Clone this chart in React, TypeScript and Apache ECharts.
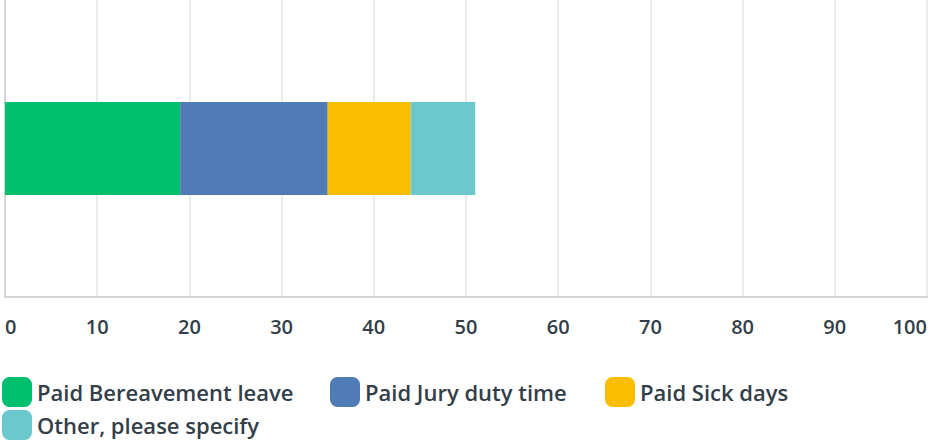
import React, { useEffect, useRef } from "react";
import * as echarts from "echarts";

const categories = ["Q"];
const seriesNames = ["Paid Bereavement leave", "Paid Jury duty time", "Paid Sick days", "Other, please specify"];
const seriesValues = [[19], [16], [9], [7]];
const seriesColors = ["#00bf6f", "#507cb6", "#f9be00", "#6bc8cd"];
const xTicks = [0, 100, 10];

const textColor = "#333e48";
const fontFamily = "'Open Sans', 'Noto Sans', sans-serif";

export default function App() {
  const ref = useRef<HTMLDivElement>(null);
  useEffect(() => {
    document.body.style.margin = "0";
    const chart = echarts.init(ref.current!, null, { renderer: "svg" });
    const legendPos = [
      { left: 2, top: 377 },
      { left: 330, top: 377 },
      { left: 605, top: 377 },
      { left: 2, top: 410 },
    ];
    chart.setOption({
      animation: false,
      grid: { left: 5, right: 2, top: 0, height: 297, containLabel: false },
      xAxis: {
        type: "value",
        min: xTicks[0],
        max: xTicks[1],
        interval: xTicks[2],
        axisLine: { show: true, lineStyle: { color: "#d4d4d4", width: 2 } },
        axisTick: { show: false },
        splitLine: { show: true, lineStyle: { color: "#ececec", width: 2 } },
        axisLabel: {
          color: textColor,
          fontFamily,
          fontSize: 20,
          fontWeight: 600,
          margin: 19,
          alignMinLabel: "left",
          alignMaxLabel: "right",
        },
      },
      yAxis: {
        type: "category",
        data: categories,
        axisLine: { show: true, lineStyle: { color: "#d4d4d4", width: 2 } },
        axisTick: { show: false },
        axisLabel: { show: false },
      },
      legend: seriesNames.map((n, i) => ({
        data: [n],
        left: legendPos[i].left,
        top: legendPos[i].top,
        itemWidth: 30,
        itemHeight: 30,
        itemGap: 0,
        padding: 0,
        icon: "roundRect",
        textStyle: {
          color: textColor,
          fontFamily,
          fontSize: 22,
          fontWeight: 600,
          lineHeight: 26,
        },
        selectedMode: false,
      })),
      series: seriesNames.map((n, i) => ({
        name: n,
        type: "bar",
        stack: "total",
        data: seriesValues[i],
        barWidth: 93,
        itemStyle: { color: seriesColors[i] },
      })),
    });
    return () => chart.dispose();
  }, []);
  return <div ref={ref} style={{ width: 930, height: 441 }} />;
}
